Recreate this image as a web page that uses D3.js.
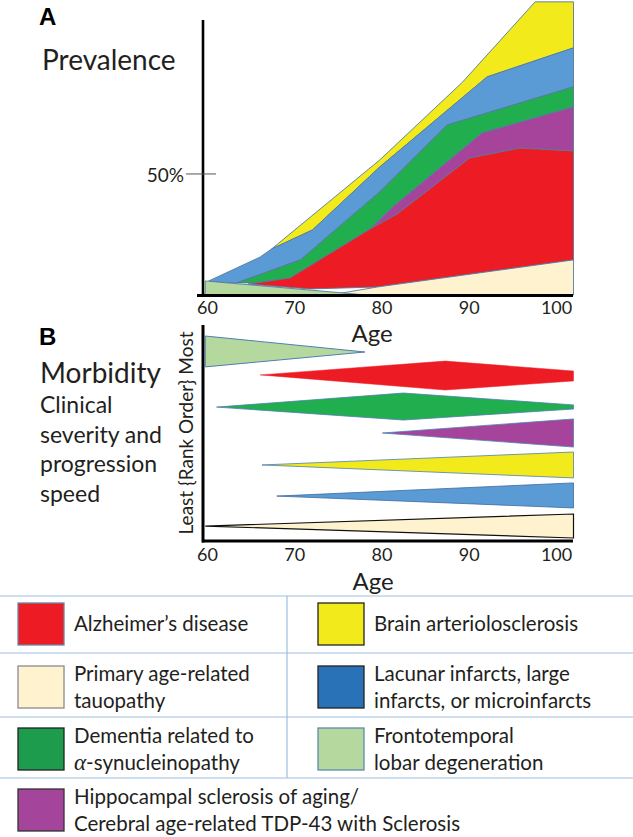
<!DOCTYPE html>
<html><head><meta charset="utf-8">
<script src="https://cdn.jsdelivr.net/npm/d3@7"></script>
<style>body{margin:0;background:#fff}svg{display:block}</style>
</head><body>
<svg id="c" width="633" height="837"></svg>
<script>
// ---------- data ----------
const ageTicks = [60, 70, 80, 90, 100];
const prevalenceTicks = [50];
// Panel A: prevalence polygons, points are [age, cumulative %]
const prevYellow = [[67.4,19.0],[79.8,55.8],[89.3,88.0],[97.6,121.1],[102,121.1],[102,102.1],[92.1,90.1],[79.8,52.9],[72.1,26.9]];
const prevBlue   = [[60.2,5.8],[66.1,15.7],[67.4,19.0],[72.1,26.9],[79.8,52.9],[92.1,90.1],[102,102.1],[102,86.0],[87.5,70.2],[79.8,42.6],[70.7,14.5],[63.4,5.0],[60.6,5.4]];
const prevGreen  = [[63.4,5.0],[70.7,14.5],[79.8,42.6],[87.5,70.2],[102,86.0],[102,77.7],[91.5,66.9],[81.3,36.4],[78.7,27.3],[69.5,7.0],[65.7,5.0]];
const prevPurple = [[78.7,27.3],[81.3,36.4],[91.5,66.9],[102,77.7],[102,59.5],[95.9,60.7],[90.1,56.6],[81.8,33.5]];
const prevRed    = [[64.7,4.5],[69.5,7.0],[78.7,27.3],[81.8,33.5],[90.1,56.6],[95.9,60.7],[102,59.5],[102,14.5],[79.5,3.3],[71.8,2.5]];
const prevPart   = [[74.1,0],[79.5,3.3],[102,14.5],[102,0]];
const prevFtld   = [[59.8,5.8],[78.3,0],[59.8,0]];
// Panel B: morbidity rank shapes, points are [age, rank (0 least .. 100 most)]
const sevFtld   = [[59.8,94.9],[78.1,87.5],[59.8,80.6]];
const sevRed    = [[66.1,76.9],[87.3,83.3],[102,78.7],[102,74.1],[87.3,69.9]];
const sevGreen  = [[61.1,62.0],[82.5,68.5],[102,63.0],[102,61.1],[82.5,56.0]];
const sevPurple = [[80.1,50.0],[102,56.5],[102,43.5]];
const sevYellow = [[66.3,35.2],[102,41.2],[102,29.2]];
const sevBlue   = [[68.0,20.8],[102,26.9],[102,15.3]];
const sevPart   = [[59.8,6.9],[102,12.5],[102,1.4]];
// legend
const legendLines = [
  ["Alzheimer\u2019s disease"],
  ["Brain arteriolosclerosis"],
  ["Primary age-related","tauopathy"],
  ["Lacunar infarcts, large","infarcts, or microinfarcts"],
  ["Dementia related to","\u03b1-synucleinopathy"],
  ["Frontotemporal","lobar degeneration"],
  ["Hippocampal sclerosis of aging/","Cerebral age-related TDP-43 with Sclerosis"]
];
const legendFill   = ["#ed1c24","#f3ea1b","#fff3cf","#2a72b8","#1c9c4c","#b5d89f","#a4449b"];
const legendStroke = ["#6a86a8","#222","#8a8a8a","#222","#222","#5c8bb0","#333"];

// ---------- drawing ----------
const svg = d3.select("#c");
const FONT = "Lato, 'Open Sans', sans-serif";
const TXT = "#231f20";
const x = d3.scaleLinear().domain([60,102]).range([207,573.5]);
const yA = d3.scaleLinear().domain([0,113.6]).range([295,20]);
const yB = d3.scaleLinear().domain([0,100]).range([541,325]);

const lineA = d3.line().x(d=>x(d[0])).y(d=>yA(d[1]));
const lineB = d3.line().x(d=>x(d[0])).y(d=>yB(d[1]));
const edge = "#55799f";

const gA = svg.append("g");
[[prevYellow,"#f3ea1b"],[prevBlue,"#5b9bd5"],[prevGreen,"#21ae4f"],[prevPurple,"#a6449b"],
 [prevRed,"#ed1c24"],[prevPart,"#fff3cf"],[prevFtld,"#b5d89f"]].forEach(([pts,c])=>{
  gA.append("path").attr("d",lineA(pts)+"Z").attr("fill",c)
    .attr("stroke",edge).attr("stroke-width",0.9).attr("stroke-linejoin","round");
});

// Panel A axes
gA.append("line").attr("x1",203).attr("x2",203).attr("y1",yA.range()[1]).attr("y2",yA(0)+1.5)
  .attr("stroke","#000").attr("stroke-width",2.6);
gA.append("line").attr("x1",197).attr("x2",573).attr("y1",yA(0)+0.5).attr("y2",yA(0)+0.5)
  .attr("stroke","#000").attr("stroke-width",3);
prevalenceTicks.forEach(v=>{
  gA.append("line").attr("x1",186).attr("x2",216).attr("y1",yA(v)).attr("y2",yA(v))
    .attr("stroke","#555").attr("stroke-width",1);
  gA.append("text").attr("x",184).attr("y",yA(v)+8).attr("text-anchor","end")
    .attr("font-family",FONT).attr("font-size",19).attr("fill",TXT).text(v+"%");
});
const axA = svg.append("g").attr("transform","translate(0,296)")
  .call(d3.axisBottom(x).tickValues(ageTicks).tickSize(0).tickPadding(5));
axA.select(".domain").remove();
axA.selectAll("text").attr("font-family",FONT).attr("font-size",18).attr("fill",TXT);

svg.append("text").attr("x",372).attr("y",341.8).attr("text-anchor","middle")
  .attr("font-family",FONT).attr("font-size",24).attr("fill",TXT).text("Age");
svg.append("text").attr("x",39).attr("y",25).attr("font-family","'Liberation Sans', Arial, sans-serif")
  .attr("font-weight","bold").attr("font-size",24).attr("fill","#000").text("A");
svg.append("text").attr("x",42).attr("y",70).attr("font-family",FONT)
  .attr("font-size",28).attr("fill",TXT).text("Prevalence");

// Panel B shapes
const gB = svg.append("g");
[[sevFtld,"#b5d89f","#4d7fb3",1],[sevRed,"#ed1c24","#ed1c24",0.5],[sevGreen,"#21ae4f","#4d7fb3",0.8],
 [sevPurple,"#a6449b","#4d7fb3",0.8],[sevYellow,"#f3ea1b","#4d7fb3",0.8],[sevBlue,"#5b9bd5","#3d6aa0",0.8],
 [sevPart,"#fff3cf","#111",1.2]].forEach(([pts,c,s,w])=>{
  gB.append("path").attr("d",lineB(pts)+"Z").attr("fill",c).attr("stroke",s).attr("stroke-width",w);
});
gB.append("line").attr("x1",203).attr("x2",203).attr("y1",yB(100)).attr("y2",yB(0)+1.5)
  .attr("stroke","#000").attr("stroke-width",3);
gB.append("line").attr("x1",202).attr("x2",573).attr("y1",yB(0)).attr("y2",yB(0))
  .attr("stroke","#000").attr("stroke-width",3);
const axB = svg.append("g").attr("transform","translate(0,542)")
  .call(d3.axisBottom(x).tickValues(ageTicks).tickSize(0).tickPadding(6));
axB.select(".domain").remove();
axB.selectAll("text").attr("font-family",FONT).attr("font-size",18).attr("fill",TXT);
svg.append("text").attr("x",373).attr("y",589.5).attr("text-anchor","middle")
  .attr("font-family",FONT).attr("font-size",24).attr("fill",TXT).text("Age");
svg.append("text").attr("transform","translate(193,433) rotate(-90)").attr("text-anchor","middle")
  .attr("font-family",FONT).attr("font-size",19).attr("fill",TXT).text("Least {Rank Order} Most");
svg.append("text").attr("x",39).attr("y",345).attr("font-family","'Liberation Sans', Arial, sans-serif")
  .attr("font-weight","bold").attr("font-size",24).attr("fill","#000").text("B");
svg.append("text").attr("x",40).attr("y",383).attr("font-family",FONT)
  .attr("font-size",28).attr("fill",TXT).text("Morbidity");
["Clinical","severity and","progression","speed"].forEach((t,i)=>{
  svg.append("text").attr("x",40).attr("y",413+i*29.5).attr("font-family",FONT)
    .attr("font-size",23).attr("fill",TXT).text(t);
});

// Legend
const gL = svg.append("g");
const rowLines = [596,653,717,778];
const rowCenter = [624,687,749,810];
const colX = [17,317];
rowLines.forEach(y=>gL.append("line").attr("x1",0).attr("x2",633).attr("y1",y).attr("y2",y)
  .attr("stroke","#9dbfe0").attr("stroke-width",1.2));
gL.append("line").attr("x1",287).attr("x2",287).attr("y1",596).attr("y2",778)
  .attr("stroke","#9dbfe0").attr("stroke-width",1.2);
legendLines.forEach((lines,i)=>{
  const row = Math.floor(i/2), col = i%2;
  const cy = rowCenter[row], x0 = colX[col];
  gL.append("rect").attr("x",x0+1).attr("y",cy-21).attr("width",46).attr("height",42)
    .attr("fill",legendFill[i]).attr("stroke",legendStroke[i]).attr("stroke-width",1.3);
  lines.forEach((t,j)=>{
    const ty = cy + (lines.length===1 ? 0 : (j===0?-13.5:13.5)) + 7;
    const tx = gL.append("text").attr("x",x0+57).attr("y",ty).attr("font-family",FONT)
      .attr("font-size",20.5).attr("fill",TXT);
    if (t.startsWith("\u03b1")) {
      tx.append("tspan").attr("font-family","'Liberation Serif', serif").attr("font-style","italic")
        .attr("font-size",23).text("\u03b1");
      tx.append("tspan").text(t.slice(1));
    } else tx.text(t);
  });
});
</script>
</body></html>
